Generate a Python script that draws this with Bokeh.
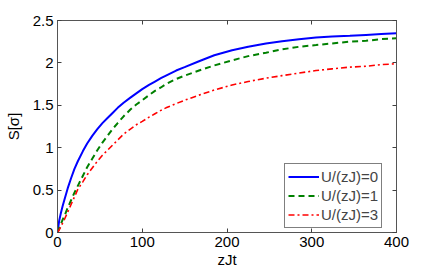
from bokeh.plotting import figure
from bokeh.models import LinearAxis, FixedTicker, Range1d, Legend, LegendItem
from bokeh.embed import file_html
from bokeh.resources import INLINE

t = [0, 2, 4, 6, 8, 12, 16, 20, 24, 30, 35, 41, 47, 53, 59, 65, 71, 78, 86, 93,
     100, 108, 115, 122, 128, 140, 150, 167, 185, 206, 225, 246, 265, 285, 305, 324, 345, 364, 382, 400]
s_u0 = [0, 0.14, 0.23, 0.31, 0.38, 0.52, 0.64, 0.75, 0.84, 0.96, 1.05, 1.14, 1.22, 1.29, 1.35, 1.41, 1.47, 1.53, 1.59, 1.64,
        1.69, 1.74, 1.78, 1.82, 1.85, 1.91, 1.95, 2.02, 2.09, 2.15, 2.19, 2.23, 2.255, 2.28, 2.30, 2.31, 2.32, 2.33, 2.34, 2.35]
s_u1 = [0, 0.05, 0.10, 0.15, 0.19, 0.29, 0.38, 0.47, 0.55, 0.67, 0.77, 0.87, 0.97, 1.06, 1.14, 1.22, 1.29, 1.37, 1.45, 1.51,
        1.56, 1.62, 1.67, 1.71, 1.75, 1.81, 1.85, 1.91, 1.97, 2.03, 2.08, 2.12, 2.16, 2.19, 2.21, 2.23, 2.25, 2.26, 2.28, 2.29]
s_u3 = [0, 0.03, 0.07, 0.11, 0.15, 0.24, 0.33, 0.42, 0.51, 0.60, 0.68, 0.76, 0.84, 0.91, 0.97, 1.03, 1.09, 1.16, 1.22, 1.27,
        1.31, 1.36, 1.40, 1.44, 1.47, 1.52, 1.56, 1.62, 1.68, 1.74, 1.78, 1.82, 1.85, 1.88, 1.91, 1.93, 1.95, 1.96, 1.98, 1.99]
labels = ["U/(zJ)=0", "U/(zJ)=1", "U/(zJ)=3"]
x_ticks = [0, 100, 200, 300, 400]
y_ticks = [0, 0.5, 1, 1.5, 2, 2.5]
y_tick_labels = ["0", "0.5", "1", "1.5", "2", "2.5"]

FONT = "Liberation Sans"
FS = "15px"

p = figure(width=430, height=270, output_backend="svg", toolbar_location=None,
           x_range=Range1d(0, 400), y_range=Range1d(0, 2.5),
           min_border_left=57, min_border_right=34, min_border_top=20, min_border_bottom=36)
p.grid.visible = False
p.outline_line_color = "#404040"
p.outline_line_width = 1
p.background_fill_color = "white"

r0 = p.line(t, s_u0, line_color="#0000FF", line_width=2)
r1 = p.line(t, s_u1, line_color="#008000", line_width=2, line_dash="6 4")
r3 = p.line(t, s_u3, line_color="#FF0000", line_width=1.6, line_dash="6 3 2 3")

def style(ax, show_labels=True):
    ax.axis_line_color = "#555555"
    ax.major_tick_in = 4
    ax.major_tick_out = 0
    ax.minor_tick_line_color = None
    ax.major_tick_line_color = "#404040"
    ax.major_label_text_font = FONT
    ax.major_label_text_font_size = FS
    ax.major_label_text_color = "black"
    ax.axis_label_text_font = FONT
    ax.axis_label_text_font_size = FS
    ax.axis_label_text_font_style = "normal"
    ax.axis_label_text_color = "black"
    if not show_labels:
        ax.major_label_text_alpha = 0
        ax.major_label_text_font_size = "1px"
        ax.major_label_standoff = 0

xa = p.xaxis[0]
xa.ticker = FixedTicker(ticks=x_ticks)
xa.axis_label = "zJt"
xa.axis_label_standoff = 1
xa.major_label_standoff = 4
style(xa)

ya = p.yaxis[0]
ya.ticker = FixedTicker(ticks=y_ticks)
ya.major_label_overrides = {v: l for v, l in zip(y_ticks, y_tick_labels)}
ya.axis_label = "S[σ]"
ya.axis_label_standoff = 8
ya.major_label_standoff = 4
style(ya)

ra = LinearAxis(ticker=FixedTicker(ticks=y_ticks))
style(ra, False)
p.add_layout(ra, "right")
ta = LinearAxis(ticker=FixedTicker(ticks=x_ticks))
style(ta, False)
p.add_layout(ta, "above")

legend = Legend(items=[LegendItem(label=labels[0], renderers=[r0]),
                       LegendItem(label=labels[1], renderers=[r1]),
                       LegendItem(label=labels[2], renderers=[r3])],
                location=(227, 4))
legend.margin = 0
legend.padding = 3
legend.spacing = 0
legend.label_height = 19
legend.glyph_height = 19
legend.glyph_width = 31
legend.label_standoff = 2
legend.label_text_font = FONT
legend.label_text_font_size = FS
legend.border_line_color = "black"
legend.border_line_width = 1
legend.background_fill_alpha = 1
p.add_layout(legend, "center")

open("out.html", "w").write(file_html(p, INLINE))
